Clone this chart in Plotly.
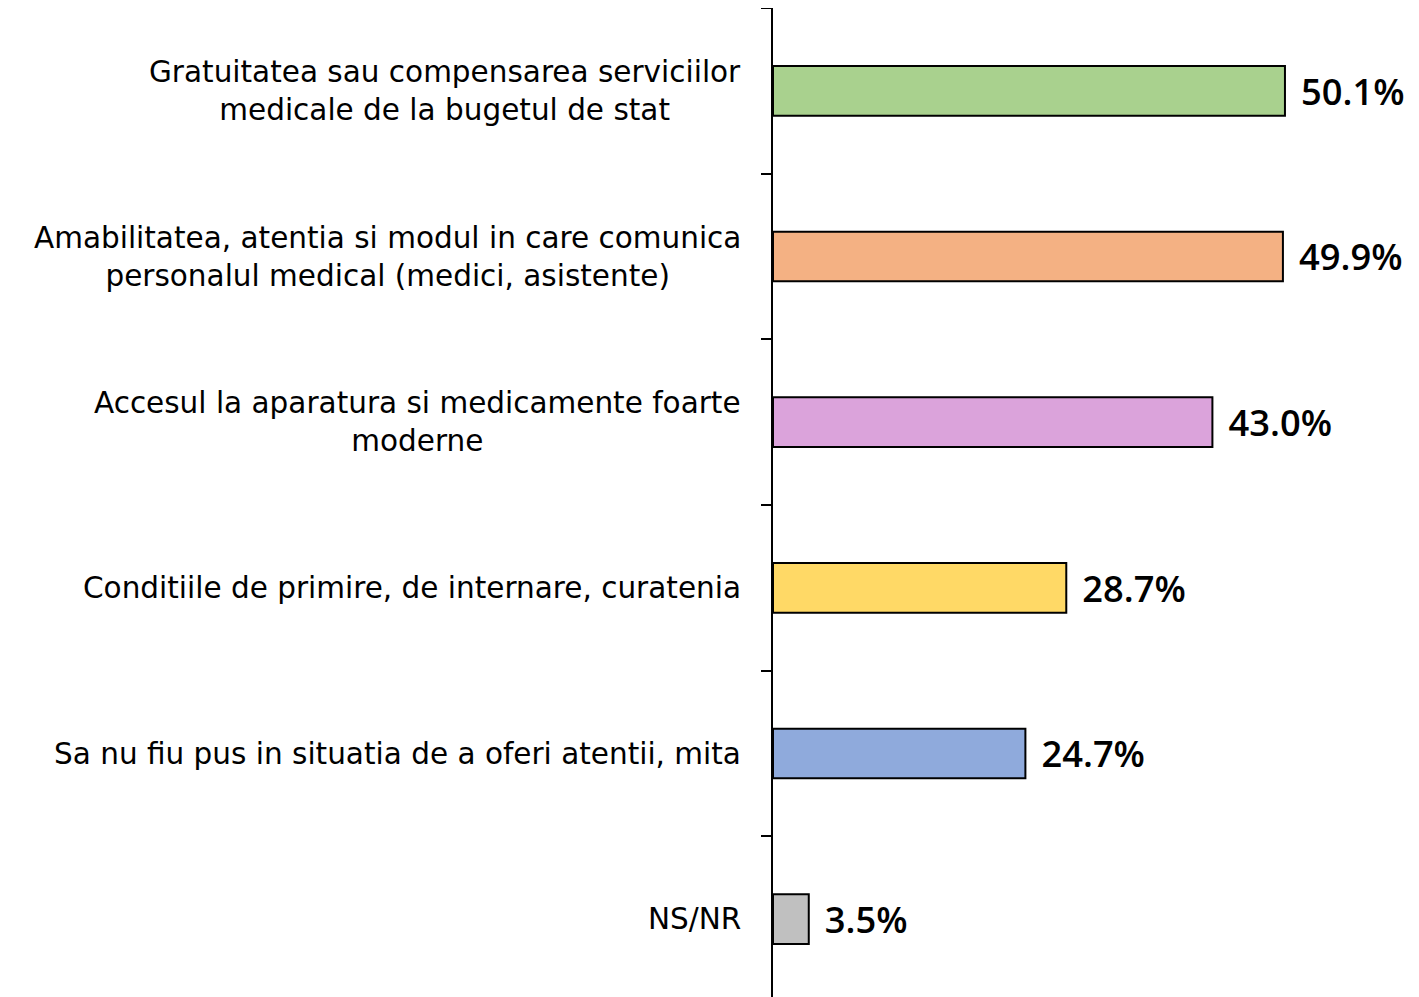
import plotly.graph_objects as go

# Data
categories = [
    "Gratuitatea sau compensarea serviciilor<br>medicale de la bugetul de stat",
    "Amabilitatea, atentia si modul in care comunica<br>personalul medical (medici, asistente)",
    "Accesul la aparatura si medicamente foarte<br>moderne",
    "Conditiile de primire, de internare, curatenia",
    "Sa nu fiu pus in situatia de a oferi atentii, mita",
    "NS/NR",
]
values = [50.1, 49.9, 43.0, 28.7, 24.7, 3.5]
colors = ["#a9d18e", "#f4b183", "#dba3db", "#ffd966", "#8faadc", "#c0c0c0"]

fig = go.Figure(go.Bar(
    x=values,
    y=categories,
    orientation="h",
    marker=dict(color=colors, line=dict(color="black", width=2)),
    width=0.3,
    text=[f"{v:.1f}%" for v in values],
    textposition="outside",
    texttemplate=" \u200a%{text}",
    textfont=dict(family="Open Sans", size=36.5, color="black", weight=600),
    cliponaxis=False,
))

# category labels as annotations so multi-line text is centred
for cat in categories:
    fig.add_annotation(
        x=0, xref="paper", y=cat, yref="y",
        text=cat, showarrow=False,
        xanchor="right", xshift=-30, align="center",
        font=dict(family="DejaVu Sans", size=29.5, color="black"),
    )

fig.update_layout(
    width=1419, height=994,
    margin=dict(l=765, r=0, t=0, b=0, autoexpand=False),
    paper_bgcolor="white", plot_bgcolor="white",
    showlegend=False,
    xaxis=dict(range=[0, 64.0], visible=False),
    yaxis=dict(
        autorange="reversed",
        showticklabels=False,
        showline=True, linecolor="black", linewidth=2,
        ticks="outside", ticklen=10, tickcolor="black", tickwidth=2,
        tickson="boundaries",
        showgrid=False, zeroline=False,
    ),
)

fig.write_html("out.html")
